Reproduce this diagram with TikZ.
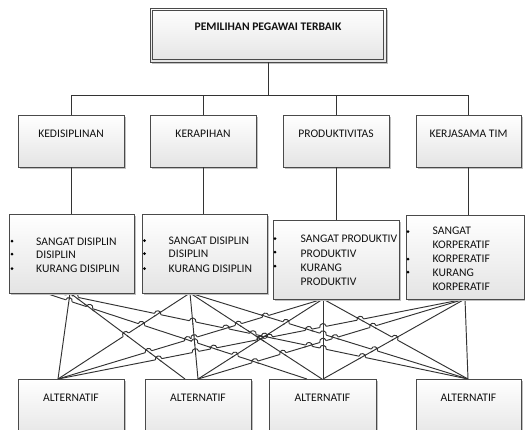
\documentclass[tikz,border=0pt]{standalone}
\usepackage{fontspec}
\setmainfont{Carlito}
\usetikzlibrary{shadows}
\definecolor{boxline}{HTML}{4A4A4A}
\definecolor{boxfill}{HTML}{E4E4E4}
\definecolor{shadowc}{HTML}{C0C0C0}
\definecolor{connc}{HTML}{333333}
\definecolor{txt}{HTML}{111111}
\tikzset{
  box/.style={draw=boxline, line width=0.9pt, top color=white, bottom color=boxfill,
    inner sep=0pt, drop shadow={shadow xshift=1.6pt, shadow yshift=-1.6pt, fill=shadowc, opacity=1}},
  conn/.style={draw=connc, line width=0.95pt},
  cover/.style={draw=white, line width=2.8pt},
  lbl/.style={font=\fontsize{11.6}{13}\selectfont, text=txt, inner sep=0pt, anchor=base},
  item/.style={lbl, anchor=base west},
  bullet/.style={fill=black}
}
\def\mylines{70/293/58/379, 70/293/185/379, 45/293/307/379, 57/293/468/379,
 190/293/58/379, 190/293/198/379, 190/293/322/379, 190/293/468/379,
 323/299/58/379, 323/299/198/379, 323/299/323/379, 323/299/468/379,
 465/299/58/379, 465/299/198/379, 465/299/323/379, 465/299/468/379}
\gdef\covlist{}
\gdef\hoplist{}
\begin{document}
\begin{tikzpicture}[x=1pt,y=-1pt]
\useasboundingbox (0,0) rectangle (525,429);
\clip (0,0) rectangle (525,429);
% mesh of connectors
\foreach \xa/\ya/\xb/\yb in \mylines {\draw[conn] (\xa,\ya) -- (\xb,\yb);}
% line jumps
\foreach \xa/\ya/\xb/\yb [count=\i] in \mylines {
 \foreach \xc/\yc/\xd/\yd [count=\j] in \mylines {
  \ifnum\j>\i\relax
   \pgfmathsetmacro\mRx{(\xb-\xa)/100}
   \pgfmathsetmacro\mRy{(\yb-\ya)/100}
   \pgfmathsetmacro\mSx{(\xd-\xc)/100}
   \pgfmathsetmacro\mSy{(\yd-\yc)/100}
   \pgfmathsetmacro\mDen{\mRx*\mSy-\mRy*\mSx}
   \pgfmathsetmacro\mAden{abs(\mDen)}
   \ifdim\mAden pt>0.002pt\relax
    \pgfmathsetmacro\mWx{(\xc-\xa)/100}
    \pgfmathsetmacro\mWy{(\yc-\ya)/100}
    \pgfmathsetmacro\mT{(\mWx*\mSy-\mWy*\mSx)/\mDen}
    \pgfmathsetmacro\mU{(\mWx*\mRy-\mWy*\mRx)/\mDen}
    \pgfmathparse{and(and(\mT>0.03,\mT<0.97),and(\mU>0.03,\mU<0.97))}
    \ifdim\pgfmathresult pt>0.5pt\relax
     \pgfmathsetmacro\mPx{\xa+\mT*(\xb-\xa)}
     \pgfmathsetmacro\mPy{\ya+\mT*(\yb-\ya)}
     \pgfmathsetmacro\mLr{veclen(\mRx,\mRy)}
     \pgfmathsetmacro\mLs{veclen(\mSx,\mSy)}
     \pgfmathsetmacro\mUx{\mRx/\mLr}
     \pgfmathsetmacro\mUy{\mRy/\mLr}
     \pgfmathsetmacro\mVx{\mSx/\mLs}
     \pgfmathsetmacro\mVy{\mSy/\mLs}
     \pgfmathsetmacro\mAy{abs(\mUy)}
     \pgfmathsetmacro\mBy{abs(\mVy)}
     \ifdim\mAy pt<\mBy pt\relax
      \let\mHx\mUx \let\mHy\mUy \let\mEx\mVx \let\mEy\mVy
     \else
      \let\mHx\mVx \let\mHy\mVy \let\mEx\mUx \let\mEy\mUy
     \fi
     \ifdim\mHx pt<0pt\relax
      \pgfmathsetmacro\mHx{0-(\mHx)}
      \pgfmathsetmacro\mHy{0-(\mHy)}
     \fi
     \pgfmathsetmacro\mSn{abs(\mHx*\mEy-\mHy*\mEx)}
     \pgfmathsetmacro\mL{min(1.6/max(\mSn,0.2)+1.5,7)}
     \pgfmathsetmacro\mAx{\mPx-3.3*\mHx}
     \pgfmathsetmacro\mAyy{\mPy-3.3*\mHy}
     \pgfmathsetmacro\mBx{\mPx+3.3*\mHx}
     \pgfmathsetmacro\mByy{\mPy+3.3*\mHy}
     \pgfmathsetmacro\mCx{\mAx+4.4*\mHy}
     \pgfmathsetmacro\mCy{\mAyy-4.4*\mHx}
     \pgfmathsetmacro\mDx{\mBx+4.4*\mHy}
     \pgfmathsetmacro\mDy{\mByy-4.4*\mHx}
     \pgfmathsetmacro\mFx{\mPx-\mL*\mEx}
     \pgfmathsetmacro\mFy{\mPy-\mL*\mEy}
     \pgfmathsetmacro\mGx{\mPx+\mL*\mEx}
     \pgfmathsetmacro\mGy{\mPy+\mL*\mEy}
     \xdef\covlist{\unexpanded\expandafter{\covlist}\noexpand\draw[cover] (\mAx,\mAyy) -- (\mBx,\mByy);}
     \xdef\hoplist{\unexpanded\expandafter{\hoplist}\noexpand\draw[conn] (\mFx,\mFy) -- (\mGx,\mGy); \noexpand\draw[conn] (\mAx,\mAyy) .. controls (\mCx,\mCy) and (\mDx,\mDy) .. (\mBx,\mByy);}
    \fi
   \fi
  \fi
 }
}
\covlist
\hoplist
% top box
\node[box, minimum width=236pt, minimum height=54pt] (top) at (268,35) {};
\draw[draw=boxline, line width=0.9pt] ([shift={(3,-3)}]top.south west) rectangle ([shift={(-3,3)}]top.north east);
\node[lbl, font=\fontsize{11.6}{13}\selectfont\bfseries] (toptext) at (268,30) {PEMILIHAN PEGAWAI TERBAIK};
% criteria
\node[box, minimum width=106pt, minimum height=52pt] (k1) at (71,141) {};
\node[box, minimum width=106pt, minimum height=52pt] (k2) at (203,141) {};
\node[box, minimum width=106pt, minimum height=52pt] (k3) at (336,141) {};
\node[box, minimum width=105pt, minimum height=52pt] (k4) at (468.5,141) {};
\node[lbl] (k1t) at (71,137) {KEDISIPLINAN};
\node[lbl] (k2t) at (203,137) {KERAPIHAN};
\node[lbl] (k3t) at (336,137) {PRODUKTIVITAS};
\node[lbl] (k4t) at (468.5,137) {KERJASAMA TIM};
\coordinate (bus) at (0,95);
\draw[conn] (top.south) -- (top.south |- bus) -| (k1.north);
\draw[conn] (top.south |- bus) -| (k2.north);
\draw[conn] (top.south |- bus) -| (k3.north);
\draw[conn] (top.south |- bus) -| (k4.north);
% sub boxes
\node[box, minimum width=125pt, minimum height=79pt] (s1) at (71.5,253.5) {};
\node[box, minimum width=125pt, minimum height=79pt] (s2) at (204.5,253.5) {};
\node[box, minimum width=126pt, minimum height=79pt] (s3) at (336,259.5) {};
\node[box, minimum width=118pt, minimum height=84pt] (s4) at (465,257) {};
\draw[conn] (k1.south) -- (k1.south |- s1.north);
\draw[conn] (k2.south) -- (k2.south |- s2.north);
\draw[conn] (k3.south) -- (k3.south |- s3.north);
\draw[conn] (k4.south) -- (k4.south |- s4.north);
% items box 1
\node[item] (a1) at (36,245) {SANGAT DISIPLIN};
\node[item] (a2) at (36,258) {DISIPLIN};
\node[item] (a3) at (36,272) {KURANG DISIPLIN};
\fill[bullet] (12,241) circle (1.5);
\fill[bullet] (12,254) circle (1.5);
\fill[bullet] (12,268.5) circle (1.5);
% items box 2
\node[item] (b1) at (168.5,244) {SANGAT DISIPLIN};
\node[item] (b2) at (168.5,257.5) {DISIPLIN};
\node[item] (b3) at (168.5,272) {KURANG DISIPLIN};
\fill[bullet] (144.5,240.5) circle (1.5);
\fill[bullet] (144.5,253.5) circle (1.5);
\fill[bullet] (144.5,268.5) circle (1.5);
% items box 3
\node[item] (c1) at (300.5,242.5) {SANGAT PRODUKTIV};
\node[item] (c2) at (300.5,257) {PRODUKTIV};
\node[item] (c3) at (300.5,271) {KURANG};
\node[item] (c4) at (300.5,285) {PRODUKTIV};
\fill[bullet] (275,238.5) circle (1.5);
\fill[bullet] (275,252) circle (1.5);
\fill[bullet] (275,266) circle (1.5);
% items box 4
\node[item] (d1) at (432.5,234.5) {SANGAT};
\node[item] (d2) at (432.5,248.5) {KORPERATIF};
\node[item] (d3) at (432.5,262.5) {KORPERATIF};
\node[item] (d4) at (432.5,276.5) {KURANG};
\node[item] (d5) at (432.5,290.5) {KORPERATIF};
\fill[bullet] (408,231.5) circle (1.5);
\fill[bullet] (408,259) circle (1.5);
\fill[bullet] (408,272) circle (1.5);
% alternatives
\node[box, minimum width=106pt, minimum height=61pt] (alt1) at (71,409.5) {};
\node[box, minimum width=106pt, minimum height=61pt] (alt2) at (198,409.5) {};
\node[box, minimum width=107pt, minimum height=61pt] (alt3) at (322.5,409.5) {};
\node[box, minimum width=105pt, minimum height=61pt] (alt4) at (468.5,409.5) {};
\node[lbl] (alt1t) at (71,401) {ALTERNATIF};
\node[lbl] (alt2t) at (198,401) {ALTERNATIF};
\node[lbl] (alt3t) at (322.5,401) {ALTERNATIF};
\node[lbl] (alt4t) at (468.5,401) {ALTERNATIF};
\end{tikzpicture}
\end{document}
